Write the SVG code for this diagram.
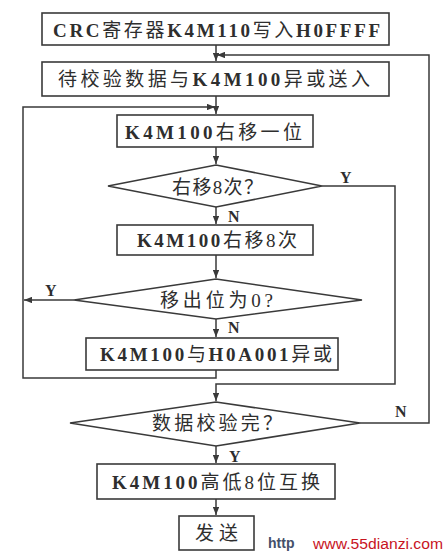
<svg xmlns="http://www.w3.org/2000/svg" width="448" height="558" viewBox="0 0 448 558">
<defs>
<marker id="ah" viewBox="0 0 10 8" refX="10" refY="4" markerWidth="8" markerHeight="6.4" markerUnits="userSpaceOnUse" orient="auto">
<path d="M0,0 L10,4 L0,8 Z" fill="#3a3a3a"/>
</marker>
</defs>
<style>
.box{fill:#fff;stroke:#3a3a3a;stroke-width:1.6}
.ln{fill:none;stroke:#3a3a3a;stroke-width:1.5}
.t{font-family:"Liberation Serif","Noto Sans CJK SC",serif;font-size:19px;fill:#2e2e2e;text-anchor:start}
.b{font-weight:bold}
.lb{font-family:"Liberation Serif",serif;font-size:16px;font-weight:bold;fill:#2e2e2e}
</style>
<rect width="448" height="558" fill="#fff"/>
<g id="connectors">
<path class="ln" d="M216,45 V61" marker-end="url(#ah)"/>
<path class="ln" d="M360,423 H429 V55 H217" marker-end="url(#ah)"/>
<path class="ln" d="M216,96 V114" marker-end="url(#ah)"/>
<path class="ln" d="M216,370 V378 H23 V107 H215" marker-end="url(#ah)"/>
<path class="ln" d="M216,147 V164" marker-end="url(#ah)"/>
<path class="ln" d="M322,186 H395 V384 H216 V401" marker-end="url(#ah)"/>
<path class="ln" d="M216,207 V224" marker-end="url(#ah)"/>
<path class="ln" d="M216,255 V278" marker-end="url(#ah)"/>
<path class="ln" d="M74,300 H24" marker-end="url(#ah)"/>
<path class="ln" d="M216,319 V337" marker-end="url(#ah)"/>
<path class="ln" d="M216,446 V463" marker-end="url(#ah)"/>
<path class="ln" d="M216,499 V515" marker-end="url(#ah)"/>
<text class="lb" x="340" y="183">Y</text>
<text class="lb" x="228" y="222">N</text>
<text class="lb" x="45" y="296">Y</text>
<text class="lb" x="228" y="333">N</text>
<text class="lb" x="395" y="417">N</text>
<text class="lb" x="229" y="462">Y</text>
</g>
<g id="n1">
<rect class="box" x="42" y="13" width="347" height="32"/>
<text class="t" x="53" y="37" textLength="327" lengthAdjust="spacing"><tspan class="b">CRC</tspan>寄存器<tspan class="b">K4M110</tspan>写入<tspan class="b">H0FFFF</tspan></text>
</g>
<g id="n2">
<rect class="box" x="42" y="62" width="347" height="34"/>
<text class="t" x="58" y="86" textLength="312" lengthAdjust="spacing">待校验数据与<tspan class="b">K4M100</tspan>异或送入</text>
</g>
<g id="n3">
<rect class="box" x="117" y="115" width="196" height="32"/>
<text class="t" x="125" y="139" textLength="177" lengthAdjust="spacing"><tspan class="b">K4M100</tspan>右移一位</text>
</g>
<g id="d1">
<path class="box" d="M108,186 L216,165 L322,186 L216,207 Z"/>
<text class="t" x="172" y="194" textLength="91" lengthAdjust="spacing">右移8次？</text>
</g>
<g id="n4">
<rect class="box" x="117" y="225" width="196" height="30"/>
<text class="t" x="137" y="247" textLength="160" lengthAdjust="spacing"><tspan class="b">K4M100</tspan>右移8次</text>
</g>
<g id="d2">
<path class="box" d="M74,300 L216,279 L362,300 L216,319 Z"/>
<text class="t" x="160" y="307" textLength="113" lengthAdjust="spacing">移出位为0?</text>
</g>
<g id="n5">
<rect class="box" x="86" y="338" width="252" height="32"/>
<text class="t" x="100" y="361" textLength="232" lengthAdjust="spacing"><tspan class="b">K4M100</tspan>与<tspan class="b">H0A001</tspan>异或</text>
</g>
<g id="d3">
<path class="box" d="M70,423 L216,402 L360,423 L216,446 Z"/>
<text class="t" x="152" y="430" textLength="130" lengthAdjust="spacing">数据校验完？</text>
</g>
<g id="n6">
<rect class="box" x="97" y="464" width="238" height="35"/>
<text class="t" x="112" y="489" textLength="208" lengthAdjust="spacing"><tspan class="b">K4M100</tspan>高低8位互换</text>
</g>
<g id="n7">
<rect class="box" x="179" y="516" width="75" height="34"/>
<text class="t" x="195" y="540" textLength="43" lengthAdjust="spacing">发送</text>
</g>
<g id="watermark">
<text x="268" y="548" font-family="Liberation Sans,sans-serif" font-size="14" font-weight="bold" fill="#44506a">http</text>
<text x="313" y="549" font-family="Liberation Sans,sans-serif" font-size="15.5" fill="#c8141e" textLength="130" lengthAdjust="spacingAndGlyphs">www.55dianzi.com</text>
</g>
</svg>
